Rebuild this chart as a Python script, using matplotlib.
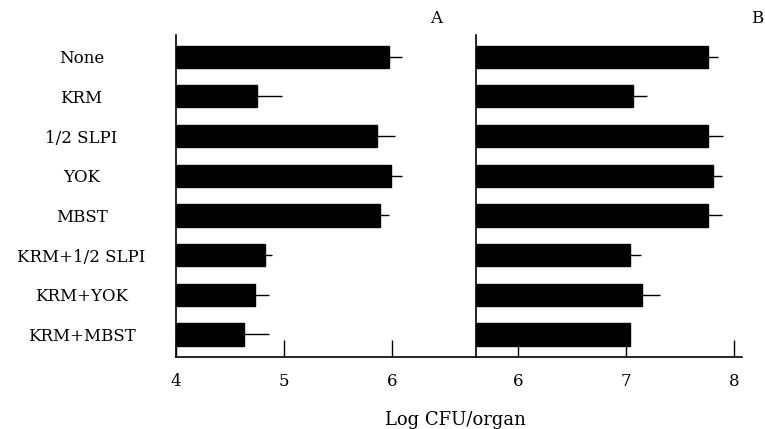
"""Bacterial counts (Log CFU/organ) per treatment, panels A and B."""
import matplotlib
matplotlib.use("Agg")
import matplotlib.pyplot as plt
import numpy as np

plt.rcParams["font.family"] = ["DejaVu Serif"]

# Data
groups = ["None", "KRM", "1/2 SLPI", "YOK", "MBST",
          "KRM+1/2 SLPI", "KRM+YOK", "KRM+MBST"]

mean_a = [5.97, 4.75, 5.86, 5.99, 5.89, 4.82, 4.73, 4.63]
err_a = [0.12, 0.23, 0.17, 0.10, 0.08, 0.07, 0.13, 0.23]

mean_b = [7.76, 7.06, 7.76, 7.81, 7.76, 7.04, 7.15, 7.04]
err_b = [0.09, 0.13, 0.14, 0.08, 0.13, 0.10, 0.16, 0.0]

ticks_a = [4, 5, 6]
ticks_b = [6, 7, 8]

fig = plt.figure(figsize=(7.65, 4.29), dpi=100)
ax1 = fig.add_axes([0.2301, 0.1685, 0.3917, 0.7499])
ax2 = fig.add_axes([0.6218, 0.1685, 0.3482, 0.7499])

y = np.arange(len(groups))

for ax, mean, err, ticks, lim in [
    (ax1, mean_a, err_a, ticks_a, (4, 6.775)),
    (ax2, mean_b, err_b, ticks_b, (5.605, 8.075)),
]:
    base = lim[0]
    ax.barh(y, np.array(mean) - base, left=base, height=0.555,
            color="black", edgecolor="black")
    ax.errorbar(mean, y, xerr=[np.zeros(len(err)), err], fmt="none",
                ecolor="black", elinewidth=1.0, capsize=0)
    ax.set_xlim(*lim)
    ax.set_ylim(7.56, -0.55)
    ax.set_xticks(ticks)
    ax.tick_params(axis="x", direction="in", length=12, width=1,
                   labelsize=12, pad=12)
    for s in ["top", "right"]:
        ax.spines[s].set_visible(False)
    ax.spines["bottom"].set_linewidth(1.2)
    ax.spines["left"].set_linewidth(1.2)

ax1.set_yticks(y)
ax1.set_yticklabels(groups, fontsize=12, ha="center")
ax1.tick_params(axis="y", length=0, pad=68)
ax2.set_yticks([])

fig.text(0.570, 0.956, "A", fontsize=12, ha="center", va="center")
fig.text(0.990, 0.956, "B", fontsize=12, ha="center", va="center")
fig.text(0.595, 0.022, "Log CFU/organ", fontsize=13, ha="center", va="center")

plt.savefig("out.png", dpi=100)
